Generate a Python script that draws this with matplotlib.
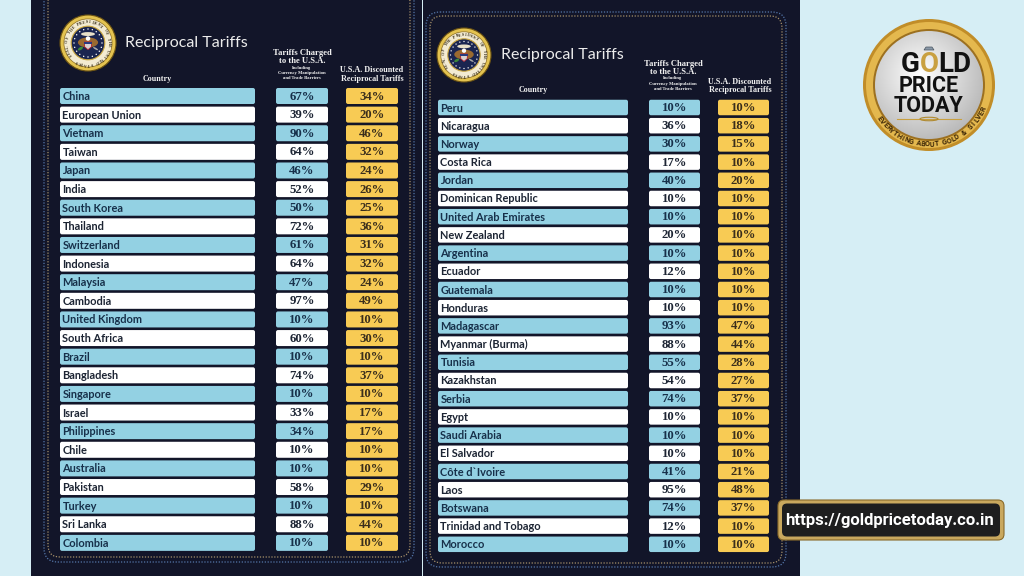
import numpy as np
import matplotlib.pyplot as plt
from matplotlib.patches import FancyBboxPatch, Circle, Ellipse, Polygon

# ---- table data ----
left_countries = ['China', 'European Union', 'Vietnam', 'Taiwan', 'Japan', 'India',
                  'South Korea', 'Thailand', 'Switzerland', 'Indonesia', 'Malaysia',
                  'Cambodia', 'United Kingdom', 'South Africa', 'Brazil', 'Bangladesh',
                  'Singapore', 'Israel', 'Philippines', 'Chile', 'Australia', 'Pakistan',
                  'Turkey', 'Sri Lanka', 'Colombia']
left_charged = [67, 39, 90, 64, 46, 52, 50, 72, 61, 64, 47, 97, 10, 60, 10, 74,
                10, 33, 34, 10, 10, 58, 10, 88, 10]
left_discounted = [34, 20, 46, 32, 24, 26, 25, 36, 31, 32, 24, 49, 10, 30, 10, 37,
                   10, 17, 17, 10, 10, 29, 10, 44, 10]

right_countries = ['Peru', 'Nicaragua', 'Norway', 'Costa Rica', 'Jordan',
                   'Dominican Republic', 'United Arab Emirates', 'New Zealand',
                   'Argentina', 'Ecuador', 'Guatemala', 'Honduras', 'Madagascar',
                   'Myanmar (Burma)', 'Tunisia', 'Kazakhstan', 'Serbia', 'Egypt',
                   'Saudi Arabia', 'El Salvador', 'Côte d`Ivoire', 'Laos', 'Botswana',
                   'Trinidad and Tobago', 'Morocco']
right_charged = [10, 36, 30, 17, 40, 10, 10, 20, 10, 12, 10, 10, 93, 88, 55, 54,
                 74, 10, 10, 10, 41, 95, 74, 12, 10]
right_discounted = [10, 18, 15, 10, 20, 10, 10, 10, 10, 10, 10, 10, 47, 44, 28, 27,
                    37, 10, 10, 10, 21, 48, 37, 10, 10]

BG = '#d6eef5'
PANEL = '#121529'
BLUE = '#93d1e3'
WHITE = '#ffffff'
GOLD = '#f8cb54'
INK = '#1c2433'
INK_BLUE = '#17304a'
CELL_FONT = ['Lato', 'DejaVu Sans']
HEAD_FONT = ['Liberation Serif', 'DejaVu Serif']
NARROW = ['Liberation Sans Narrow', 'Roboto', 'DejaVu Sans']

fig = plt.figure(figsize=(10.24, 5.76), dpi=100)
fig.patch.set_facecolor(BG)
ax = fig.add_axes([0, 0, 1, 1])
ax.axis('off')


def rbox(x0, y0, x1, y1, r, **kw):
    p = FancyBboxPatch((x0, y0), x1 - x0, y1 - y0,
                       boxstyle=f'round,pad=0,rounding_size={r}', **kw)
    ax.add_patch(p)
    return p


def seal(cx, cy, r):
    ax.add_patch(Circle((cx, cy), r, fc='#e4c350', ec='#6e5412', lw=0.8, zorder=3))
    ax.add_patch(Circle((cx, cy), r * 0.86, fc='#f3ebd2', ec='#8c6d22', lw=0.5, zorder=3))
    ring = 'SEAL OF THE PRESIDENT OF THE UNITED STATES  '
    for i, ch in enumerate(ring):
        a = np.deg2rad(215 - i * 360 / len(ring))
        ax.text(cx + r * 0.74 * np.cos(a), cy - r * 0.74 * np.sin(a), ch,
                fontsize=2.8, color='#2e2410', ha='center', va='center',
                rotation=np.rad2deg(a) - 90, family=HEAD_FONT, fontweight='bold', zorder=4)
    ax.add_patch(Circle((cx, cy), r * 0.6, fc='#1a2550', ec='#c9a640', lw=0.8, zorder=4))
    for k in range(20):
        a = np.deg2rad(k * 18)
        ax.add_patch(Circle((cx + r * 0.5 * np.cos(a), cy + r * 0.5 * np.sin(a)),
                            r * 0.025, fc='white', ec='none', zorder=5))
    ax.add_patch(Ellipse((cx, cy - r * 0.02), r * 0.72, r * 0.36, fc='#9a6a30', ec='none', zorder=5))
    ax.add_patch(Ellipse((cx, cy - r * 0.32), r * 0.5, r * 0.14, fc='#e8e0c8', ec='none', zorder=5))
    ax.add_patch(Circle((cx, cy - r * 0.16), r * 0.08, fc='white', ec='none', zorder=6))
    ax.add_patch(Polygon([(cx - r * 0.13, cy - r * 0.04), (cx + r * 0.13, cy - r * 0.04),
                          (cx + r * 0.12, cy + r * 0.14), (cx, cy + r * 0.24),
                          (cx - r * 0.12, cy + r * 0.14)], fc='#d8d0d0', ec='#b02030',
                         lw=0.6, zorder=6))
    ax.add_patch(Polygon([(cx - r * 0.13, cy - r * 0.04), (cx + r * 0.13, cy - r * 0.04),
                          (cx + r * 0.13, cy + r * 0.03), (cx - r * 0.13, cy + r * 0.03)],
                         fc='#2a3a80', ec='none', zorder=7))
    ax.add_patch(Ellipse((cx - r * 0.27, cy + r * 0.2), r * 0.2, r * 0.1, angle=-30,
                         fc='#3e8a3a', ec='none', zorder=5))
    ax.add_patch(Ellipse((cx + r * 0.27, cy + r * 0.2), r * 0.2, r * 0.06, angle=30,
                         fc='#a8a8a8', ec='none', zorder=5))


def panel(x0, x1, outer, inner):
    ax.add_patch(plt.Rectangle((x0, 0), x1 - x0, 576, fc=PANEL, ec='none', zorder=1))
    rbox(*outer, 14, fill=False, ec='#5577aa', lw=0.9, ls=(0, (1, 1.3)), zorder=2)
    rbox(*inner, 12, fill=False, ec='#a8926a', lw=0.9, ls=(0, (1, 1.3)), zorder=2)


def headers(sx, sy, sr, tx, ty, country_x, chg_x, dis_x, hy):
    seal(sx, sy, sr)
    ax.text(tx, ty, 'Reciprocal Tariffs', fontsize=11.5, color='#ececec', family=CELL_FONT,
            fontweight='normal', ha='left', va='center', zorder=3)
    kw = dict(color='#f2f2f2', family=HEAD_FONT, fontweight='bold', ha='center',
              va='center', zorder=3)
    ax.text(country_x, hy, 'Country', fontsize=5.8, **kw)
    ax.text(chg_x, hy - 26, 'Tariffs Charged', fontsize=6.2, **kw)
    ax.text(chg_x, hy - 18, 'to the U.S.A.', fontsize=6.2, **kw)
    ax.text(chg_x, hy - 11.5, 'Including', fontsize=3.3, **kw)
    ax.text(chg_x, hy - 6, 'Currency Manipulation', fontsize=3.3, **kw)
    ax.text(chg_x, hy - 1, 'and Trade Barriers', fontsize=3.3, **kw)
    ax.text(dis_x, hy - 8.5, 'U.S.A. Discounted', fontsize=5.9, **kw)
    ax.text(dis_x, hy, 'Reciprocal Tariffs', fontsize=5.9, **kw)


def table(names, charged, discounted, top, step, h, cols):
    (nx0, nx1), (cx0, cx1), (dx0, dx1) = cols
    for i, (name, c, d) in enumerate(zip(names, charged, discounted)):
        yc = top + i * step
        fill = BLUE if i % 2 == 0 else WHITE
        ink = INK_BLUE if i % 2 == 0 else INK
        rbox(nx0, yc - h / 2, nx1, yc + h / 2, 2, fc=fill, ec='none', zorder=3)
        rbox(cx0, yc - h / 2, cx1, yc + h / 2, 2, fc=fill, ec='none', zorder=3)
        rbox(dx0, yc - h / 2, dx1, yc + h / 2, 2, fc=GOLD, ec='none', zorder=3)
        ax.text(nx0 + 2.5, yc + 0.5, name, fontsize=7.9, color=ink, family=CELL_FONT,
                fontweight='bold', ha='left', va='center', zorder=4)
        ax.text((cx0 + cx1) / 2, yc + 0.5, f'{c}%', fontsize=9.2, color=ink,
                family=HEAD_FONT, fontweight='bold', ha='center', va='center', zorder=4)
        ax.text((dx0 + dx1) / 2, yc + 0.5, f'{d}%', fontsize=9.2, color='#3a2e1c',
                family=HEAD_FONT, fontweight='bold', ha='center', va='center', zorder=4)


# left sheet
panel(31, 421.5, (44, -14, 414, 562), (48, -10, 410, 557))
headers(88, 43, 28, 125, 43, 157, 302, 372, 79)
table(left_countries, left_charged, left_discounted, 96, 18.62, 16,
      [(60, 255), (276, 328), (346, 398)])

# right sheet
panel(423, 800, (426, 12, 786, 567), (430, 16, 782, 563))
headers(464, 55, 27, 501, 55, 533, 673, 740, 90)
table(right_countries, right_charged, right_discounted, 107.5, 18.2, 15.5,
      [(438, 628), (649, 700), (718, 769)])

# Gold Price Today badge
lx, ly = 929, 85
ax.add_patch(Circle((lx, ly), 66, fc='#c18d28', ec='none', zorder=2))
ax.add_patch(Circle((lx, ly), 63, fc='#e4b84e', ec='none', zorder=2))
ax.add_patch(Circle((lx, ly), 56, fc='#9c7020', ec='none', zorder=2))
yy, xx = np.mgrid[-1:1:200j, -1:1:200j]
shade = 1 - 0.22 * np.clip(np.hypot(xx + 0.15, yy + 0.2), 0, 1.4)
im = ax.imshow(shade, cmap='gray', vmin=0, vmax=1, extent=(lx - 54, lx + 54, ly + 54, ly - 54),
               aspect='auto', zorder=3)
im.set_clip_path(Circle((lx, ly), 54, transform=ax.transData))
ax.text(lx - 9, 64, 'G', fontsize=20, color='#111111', family=NARROW, fontweight='bold',
        ha='right', va='center', zorder=4)
ax.text(lx, 64, 'O', fontsize=20, color='#c9a040', family=NARROW, fontweight='bold',
        ha='center', va='center', zorder=4)
ax.text(lx + 9, 64, 'LD', fontsize=20, color='#111111', family=NARROW, fontweight='bold',
        ha='left', va='center', zorder=4)
ax.add_patch(Polygon([(lx - 5, 50), (lx + 5, 50), (lx + 3, 47), (lx - 3, 47)],
                     fc='#8a98a8', ec='#4a5560', lw=0.5, zorder=5))
ax.text(lx, 86, 'PRICE', fontsize=15.5, color='#111111', family=NARROW, fontweight='bold',
        ha='center', va='center', zorder=4)
ax.text(lx, 106, 'TODAY', fontsize=15.5, color='#111111', family=NARROW, fontweight='bold',
        ha='center', va='center', zorder=4)
ax.plot([lx - 32, lx + 32], [119, 119], color='#c9a040', lw=0.8, zorder=4)
ax.add_patch(Ellipse((lx, 119), 18, 3.5, fc='none', ec='#b08a30', lw=0.8, zorder=4))
slogan = 'EVERYTHING ABOUT GOLD & SILVER'
for i, ch in enumerate(slogan):
    a = np.deg2rad(-146 + i * 122 / (len(slogan) - 1))
    ax.text(lx + 59.5 * np.cos(a), ly - 59.5 * np.sin(a), ch, fontsize=5.2,
            color='#3a2406', family=NARROW, fontweight='bold', ha='center', va='center',
            rotation=np.rad2deg(a) + 90, zorder=4)

# website banner
rbox(778, 500, 1004, 540, 6, fc='#c9a85e', ec='#8a6a2a', lw=0.8, zorder=5)
rbox(782, 503.5, 1000, 536.5, 5, fc='#1e1e1f', ec='none', zorder=6)
ax.text(890, 520, 'https://goldpricetoday.co.in', fontsize=12, color='white',
        family=NARROW, fontweight='bold', ha='center', va='center', zorder=7)

ax.set_xlim(0, 1024)
ax.set_ylim(576, 0)
fig.savefig('out.png', dpi=100, facecolor=BG)
